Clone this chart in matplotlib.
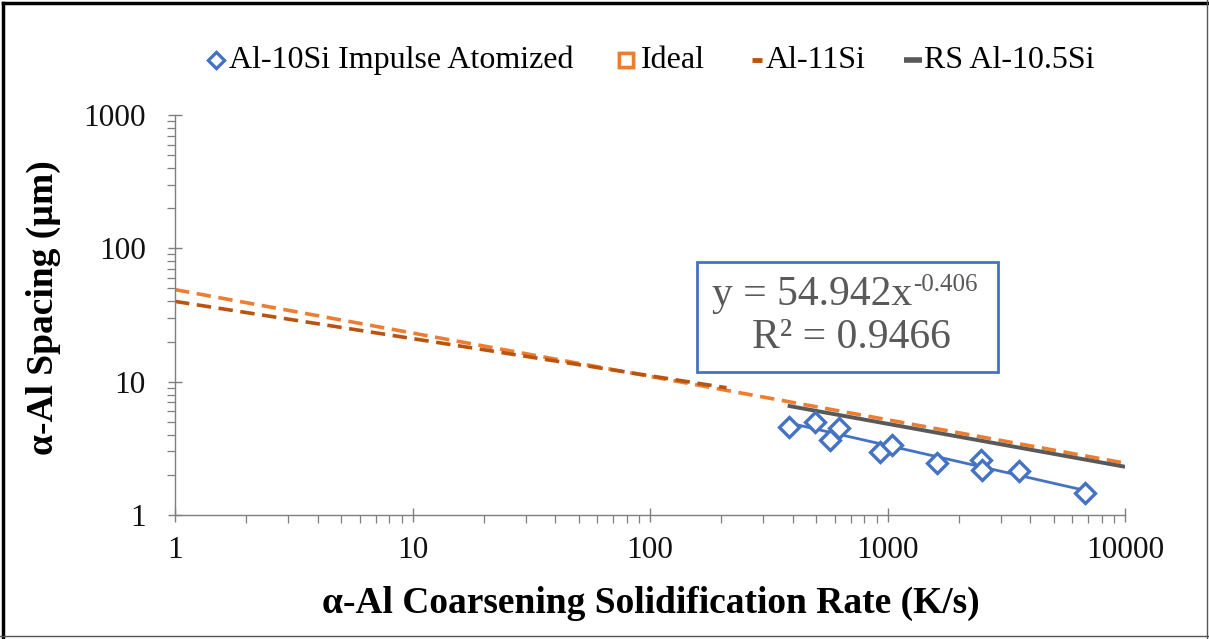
import numpy as np
import matplotlib
matplotlib.use("Agg")
import matplotlib.pyplot as plt
from matplotlib.lines import Line2D
from matplotlib.patches import Rectangle
from matplotlib.ticker import FuncFormatter, LogLocator, NullFormatter

plt.rcParams['font.family'] = ['Liberation Serif', 'DejaVu Serif']

# measured dendrite arm spacing vs coarsening solidification rate
rate = [385, 495, 573, 625, 929, 1045, 1616, 2476, 2500, 3580, 6790]
spacing = [4.59, 5.0, 3.66, 4.51, 2.98, 3.36, 2.46, 2.59, 2.18, 2.14, 1.46]

# power law trendline  y = a x^b
fit_a, fit_b = 54.942, -0.406
r2 = 0.9466

# reference lines (end points, straight on log-log)
ideal_x = [1, 10000]
ideal_y = [49, 2.45]
al11_x = [1, 210]
al11_y = [40, 9.0]
rs_x = [380, 10000]
rs_y = [6.6, 2.3]

blue = '#4472C4'
orange = '#ED7D31'
brown = '#B85410'
grey = '#595959'

W, H = 1209, 639
fig = plt.figure(figsize=(W / 100, H / 100), dpi=100)


def px(x, y):
    # pixel position (from top left) -> figure fraction
    return x / W, 1 - y / H


ax = fig.add_axes([175 / W, 1 - 515 / H, 950 / W, 400 / H])

ax.plot(ideal_x, ideal_y, color=orange, lw=2.6, dashes=(4.0, 2.1), zorder=2)
ax.plot(al11_x, al11_y, color=brown, lw=2.6, dashes=(4.0, 2.1), zorder=2)
ax.plot(rs_x, rs_y, color=grey, lw=2.8, solid_capstyle='butt', zorder=3)

xf = np.array([min(rate), max(rate)])
ax.plot(xf, fit_a * xf ** fit_b, color=blue, lw=2.0, zorder=3)
ax.plot(rate, spacing, ls='none', marker='D', ms=10.5, mfc='white',
        mec=blue, mew=2.4, zorder=4)

ax.set_xscale('log')
ax.set_yscale('log')
ax.set_xlim(1, 10000)
ax.set_ylim(1, 1000)

fmt = FuncFormatter(lambda v, p: f"{v:g}")
ax.xaxis.set_major_formatter(fmt)
ax.yaxis.set_major_formatter(fmt)
ax.xaxis.set_minor_locator(LogLocator(base=10, subs=np.arange(2, 10)))
ax.yaxis.set_minor_locator(LogLocator(base=10, subs=np.arange(2, 10)))
ax.xaxis.set_minor_formatter(NullFormatter())
ax.yaxis.set_minor_formatter(NullFormatter())

for s in ['top', 'right']:
    ax.spines[s].set_visible(False)
for s in ['left', 'bottom']:
    ax.spines[s].set_color('#7f7f7f')
    ax.spines[s].set_linewidth(1.0)
ax.tick_params(which='major', direction='inout', length=10, width=1.0,
               color='#7f7f7f', labelsize=22.5, labelcolor='#111111')
ax.tick_params(which='minor', direction='out', length=6, width=0.9,
               color='#7f7f7f')
ax.tick_params(axis='x', which='major', pad=10)
ax.tick_params(axis='y', which='major', pad=16)

fig.text(*px(651, 603), 'α-Al Coarsening Solidification Rate (K/s)',
         fontsize=27, fontweight='bold', ha='center', va='center')
fig.text(*px(43, 308), 'α-Al Spacing (µm)', fontsize=27, fontweight='bold',
         rotation=90, ha='center', va='center')

# legend row above the plot
leg_handles = [
    dict(ls='none', marker='D', ms=8.5, mfc='white', mec=blue, mew=2.2),
    dict(ls='none', marker='s', ms=10, mfc='white', mec=orange, mew=2.5),
    dict(color=brown, lw=3.5, solid_capstyle='butt'),
    dict(color=grey, lw=4, solid_capstyle='butt'),
]
leg_labels = ['Al-10Si Impulse Atomized', 'Ideal', 'Al-11Si', 'RS Al-10.5Si']
handle_x = [216, 626, 757, 913]
handle_w = [0, 0, 10, 18]
text_x = [229, 641, 766, 924]
leg_y = 60
for kw, lab, hx, hw, tx in zip(leg_handles, leg_labels, handle_x, handle_w, text_x):
    x0, y0 = px(hx - hw / 2, leg_y)
    x1, _ = px(hx + hw / 2, leg_y)
    fig.add_artist(Line2D([x0, x1], [y0, y0], **kw))
    fig.text(*px(tx, leg_y), lab, fontsize=23, ha='left', va='center')

# trendline equation box
bx0, by0 = px(697, 372)
bx1, by1 = px(998, 262)
fig.add_artist(Rectangle((bx0, by0), bx1 - bx0, by1 - by0, transform=fig.transFigure,
                         fc='white', ec=blue, lw=2, zorder=5))
eq = fig.text(*px(712, 305), f'y = {fit_a:.3f}x', fontsize=30, color=grey,
              ha='left', va='baseline', zorder=6)
fig.canvas.draw()
ex = eq.get_window_extent(fig.canvas.get_renderer())
fig.text(ex.x1 / W + 1 / W, 1 - 291 / H, f'{fit_b:.3f}', fontsize=18,
         color=grey, ha='left', va='baseline', zorder=6)
fig.text(*px(851, 348), f'R² = {r2:.4f}', fontsize=30, color=grey,
         ha='center', va='baseline', zorder=6)

# outer frame
fig.add_artist(Line2D([3 / W, 3 / W], [0, 1 - 3 / H], color='black', lw=2.5))
fig.add_artist(Line2D([3 / W, 1], [1 - 3 / H, 1 - 3 / H], color='black', lw=2.5))
fig.add_artist(Line2D([1207 / W, 1207 / W], [0, 1], color='#555555', lw=1))
fig.add_artist(Line2D([0, 1], [3 / H, 3 / H], color='#555555', lw=1))

fig.savefig('out.png', dpi=100)
